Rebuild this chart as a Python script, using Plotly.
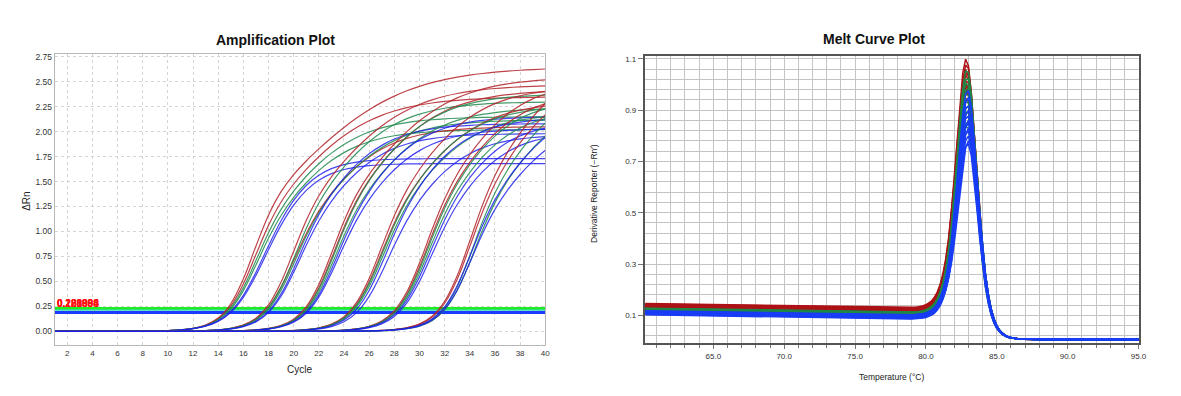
import numpy as np
import plotly.graph_objects as go

W, H = 1181, 396

# ---------------- Amplification plot data ----------------
cycles = list(range(1, 41))
amp_colors = (["red", "red", "green", "green", "blue", "blue"] * 6)
amp_ct = [14.55, 14.65, 14.75, 14.85, 15.00, 15.10,
          17.60, 17.70, 17.75, 17.85, 18.00, 18.10,
          20.70, 20.80, 20.85, 20.95, 21.05, 21.15,
          24.45, 24.55, 24.60, 24.70, 24.85, 25.10,
          27.95, 28.05, 28.10, 28.20, 28.30, 28.45,
          31.40, 31.50, 31.75, 31.90, 31.70, 31.85]
amp_plateau = [2.65, 2.35, 2.15, 2.02, 1.73, 1.68,
               2.47, 2.05, 2.30, 2.12, 2.08, 1.98,
               2.55, 2.42, 2.38, 2.24, 2.15, 2.03,
               2.45, 2.30, 2.26, 2.18, 2.14, 1.97,
               2.50, 2.40, 2.32, 2.22, 2.10, 2.00,
               2.75, 2.62, 2.55, 2.40, 2.35, 2.20]
amp_upper_scale = [4.5, 3.5, 3.0, 2.8, 1.8, 1.8,
                   3.5, 2.8, 3.0, 3.0, 2.6, 2.6,
                   3.5, 3.2, 3.0, 3.0, 2.6, 2.6,
                   3.0, 3.0, 2.8, 2.8, 2.5, 2.5,
                   2.8, 2.8, 2.6, 2.6, 2.4, 2.4,
                   3.0, 3.0, 3.0, 3.0, 3.0, 3.0]
threshold_values = [0.228, 0.214, 0.188]
threshold_colors = ["#1fee1f", "#2fd8a8", "#1a3cff"]
threshold_widths = [3, 1.5, 3]
threshold_labels = ["0.221994", "0.200000", "0.188888"]
amp_y_ticks = [0.00, 0.25, 0.50, 0.75, 1.00, 1.25, 1.50, 1.75, 2.00, 2.25, 2.50, 2.75]
amp_x_ticks = list(range(2, 41, 2))

# ---------------- Melt curve data ----------------
temperatures = np.round(np.arange(60.2, 95.01, 0.2), 2)
melt_colors = ["red"] * 12 + ["green"] * 12 + ["blue"] * 12
melt_peak = [1.10, 1.08, 1.06, 1.05, 1.04, 1.02, 1.01, 1.00, 0.99, 0.98, 0.97, 0.95,
             1.06, 1.03, 1.01, 0.99, 0.97, 0.95, 0.94, 0.92, 0.90, 0.88, 0.86, 0.84,
             0.98, 0.95, 0.92, 0.90, 0.88, 0.86, 0.85, 0.83, 0.82, 0.80, 0.78, 0.77]
melt_base = [0.140, 0.135, 0.138, 0.130, 0.133, 0.128, 0.136, 0.126, 0.131, 0.129, 0.124, 0.132,
             0.122, 0.118, 0.120, 0.115, 0.117, 0.113, 0.119, 0.116, 0.112, 0.121, 0.114, 0.118,
             0.112, 0.108, 0.105, 0.110, 0.100, 0.104, 0.098, 0.107, 0.102, 0.096, 0.109, 0.101]
melt_tm = [82.85, 82.88, 82.84, 82.90, 82.86, 82.89, 82.83, 82.91, 82.87, 82.85, 82.92, 82.88,
           82.90, 82.92, 82.88, 82.94, 82.90, 82.93, 82.89, 82.95, 82.91, 82.92, 82.96, 82.90,
           82.95, 82.97, 82.93, 82.98, 82.94, 82.99, 82.96, 83.00, 82.95, 82.97, 83.01, 82.96]
melt_y_ticks = [0.1, 0.3, 0.5, 0.7, 0.9, 1.1]
melt_x_ticks = [65.0, 70.0, 75.0, 80.0, 85.0, 90.0, 95.0]

amp_rgb = {"red": "rgba(178,34,40,0.85)", "green": "rgba(30,138,78,0.85)", "blue": "rgba(28,28,238,0.82)"}
melt_rgb = {"red": "rgb(172,18,22)", "green": "rgb(30,135,70)", "blue": "rgb(25,60,245)"}


def amp_curve(ct, plateau, s_up, s_lo=1.45):
    def shape(t):
        s = s_lo + (s_up - s_lo) / (1 + np.exp(-t / 1.5))
        return plateau / (1 + np.exp(-t / s))
    tt = np.linspace(-15, 5, 8001)
    t_star = tt[np.argmin(np.abs(shape(tt) - 0.2))]
    x0 = ct - t_star
    return shape(np.array(cycles, dtype=float) - x0)


def melt_base_fn(b0, T):
    return (b0 - 0.0009 * (T - 60)) / (1 + np.exp((T - 83.9) / 0.45)) + 0.006


def melt_curve(peak, b0, tm):
    T = temperatures
    d = T - tm
    w = np.where(d < 0, 1.0, 0.95)
    A = peak - melt_base_fn(b0, tm)
    return A / np.cosh(d / w) ** 2 + melt_base_fn(b0, T)


fig = go.Figure()

# threshold lines
for v, c, lw in zip(threshold_values, threshold_colors, threshold_widths):
    fig.add_trace(go.Scatter(x=[cycles[0], cycles[-1]], y=[v, v], mode="lines",
                             line=dict(color=c, width=lw), xaxis="x", yaxis="y",
                             showlegend=False, hoverinfo="skip"))

for col, ct, p, su in zip(amp_colors, amp_ct, amp_plateau, amp_upper_scale):
    fig.add_trace(go.Scatter(x=cycles, y=amp_curve(ct, p, su), mode="lines",
                             line=dict(color=amp_rgb[col], width=1.2, shape="spline"),
                             xaxis="x", yaxis="y", showlegend=False))

for colname in ["red", "green", "blue"]:
    for col, pk, b0, tm in zip(melt_colors, melt_peak, melt_base, melt_tm):
        if col != colname:
            continue
        fig.add_trace(go.Scatter(x=temperatures, y=melt_curve(pk, b0, tm), mode="lines",
                                 line=dict(color=melt_rgb[col], width=1.5),
                                 xaxis="x2", yaxis="y2", showlegend=False))


def px_x(x):
    return x / W


def px_y(y):
    return 1 - y / H


tickfont = dict(family="Liberation Sans", size=8, color="#333")
fig.update_layout(
    width=W, height=H, margin=dict(l=0, r=0, t=0, b=0), autosize=False,
    paper_bgcolor="white", plot_bgcolor="white",
    xaxis=dict(domain=[px_x(55), px_x(549)], range=[1, 40], tickvals=amp_x_ticks,
               showgrid=True, gridcolor="#d4d4d4", griddash="dot", gridwidth=1,
               showline=True, linecolor="#b8b8b8", linewidth=1, mirror=True,
               zeroline=False, ticks="", tickfont=tickfont),
    yaxis=dict(domain=[px_y(345), px_y(52)], range=[-0.14, 2.78], tickvals=amp_y_ticks,
               tickformat=".2f", showgrid=True, gridcolor="#d4d4d4", griddash="dot", gridwidth=1,
               showline=True, linecolor="#b8b8b8", linewidth=1, mirror=True,
               zeroline=False, ticks="", tickfont=dict(family="Liberation Sans", size=8.5, color="#333")),
    xaxis2=dict(domain=[px_x(649), px_x(1147)], range=[60.15, 95.05], tickvals=melt_x_ticks,
                tickformat=".1f", anchor="y2",
                showgrid=True, gridcolor="#c4c4c4", gridwidth=1,
                minor=dict(dtick=1, tick0=60, showgrid=True, gridcolor="#c4c4c4", gridwidth=1,
                           ticks="outside", ticklen=3, tickcolor="#777"),
                showline=True, linecolor="#555", linewidth=1.5, mirror=True,
                zeroline=False, ticks="outside", ticklen=4, tickcolor="#777", tickfont=tickfont),
    yaxis2=dict(domain=[px_y(343), px_y(54)], range=[-0.009, 1.112], tickvals=melt_y_ticks,
                tickformat=".1f", anchor="x2",
                showgrid=True, gridcolor="#c4c4c4", gridwidth=1,
                minor=dict(dtick=0.04, tick0=0.02, showgrid=True, gridcolor="#c4c4c4", gridwidth=1),
                showline=True, linecolor="#555", linewidth=1.5, mirror=True,
                zeroline=False, ticks="outside", ticklen=5, tickcolor="#777", tickfont=tickfont),
)

ann = [
    dict(text="<b>Amplification Plot</b>", x=px_x(277), y=px_y(38),
         font=dict(family="Liberation Sans", size=14, color="#111")),
    dict(text="<b>Melt Curve Plot</b>", x=px_x(880), y=px_y(37),
         font=dict(family="Liberation Sans", size=14, color="#111")),
    dict(text="Cycle", x=px_x(302), y=px_y(369),
         font=dict(family="Liberation Sans", size=10, color="#222")),
    dict(text="ΔRn", x=px_x(27), y=px_y(200), textangle=-90,
         font=dict(family="Liberation Sans", size=10, color="#222")),
    dict(text="Derivative Reporter (−Rn′)", x=px_x(598), y=px_y(192), textangle=-90,
         font=dict(family="Liberation Sans", size=8.5, color="#222")),
    dict(text="Temperature (°C)", x=px_x(898), y=px_y(377),
         font=dict(family="Liberation Sans", size=8.5, color="#222")),
]
for a in ann:
    a.update(xref="paper", yref="paper", showarrow=False, xanchor="center", yanchor="middle")
    fig.add_annotation(**a)

for lbl in threshold_labels:
    fig.add_annotation(text="<b>" + lbl + "</b>", x=px_x(55), y=px_y(303), xref="paper", yref="paper",
                       showarrow=False, xanchor="left", yanchor="middle",
                       font=dict(family="Liberation Sans", size=10, color="#ff1010"))

fig.write_html(
    "out.html",
    config={"displayModeBar": False, "responsive": False},
    post_script=("document.documentElement.style.overflow='hidden';"
                 "document.body.style.overflow='hidden';"
                 "document.body.style.margin='0px';"),
)
